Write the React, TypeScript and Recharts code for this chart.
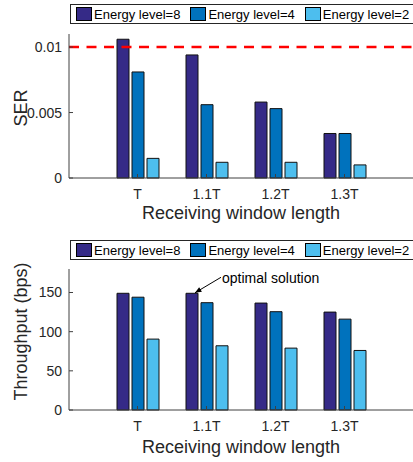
import { Bar, BarChart, ReferenceDot, ReferenceLine, XAxis, YAxis } from "recharts";

// Receiving window lengths on the x axis.
const categories = ["T", "1.1T", "1.2T", "1.3T"];

// Symbol error rate per energy level.
const serLevel8 = [0.0106, 0.0094, 0.0058, 0.0034];
const serLevel4 = [0.0081, 0.0056, 0.0053, 0.0034];
const serLevel2 = [0.0015, 0.0012, 0.0012, 0.001];
const serTicks = [0, 0.005, 0.01];
const serLimit = 0.01;

// Throughput (bps) per energy level.
const tputLevel8 = [149, 149, 136.5, 125];
const tputLevel4 = [144, 137, 125.5, 116];
const tputLevel2 = [90.5, 82, 79, 76];
const tputTicks = [0, 50, 100, 150];

const seriesNames = ["Energy level=8", "Energy level=4", "Energy level=2"];
const seriesColors = ["#352a87", "#0072bd", "#4dbeee"];
const keys = ["e8", "e4", "e2"];

const FONT = "'Liberation Sans', Arial, Helvetica, sans-serif";
const INK = "#262626";
const AXIS = "#404040";

const serData = categories.map((name, i) => ({ name, e8: serLevel8[i], e4: serLevel4[i], e2: serLevel2[i] }));
const tputData = categories.map((name, i) => ({ name, e8: tputLevel8[i], e4: tputLevel4[i], e2: tputLevel2[i] }));

function LegendBox({ top }: { top: number }) {
  return (
    <div
      style={{
        position: "absolute",
        left: 70,
        top,
        width: 350,
        height: 20,
        border: `1px solid ${INK}`,
        background: "#fff",
        display: "flex",
        alignItems: "center",
        paddingLeft: 5,
        boxSizing: "border-box",
        fontFamily: FONT,
        fontSize: 13,
        color: "#000",
        whiteSpace: "nowrap",
      }}
    >
      {seriesNames.map((n, i) => (
        <div key={n} style={{ display: "flex", alignItems: "center", marginRight: 10 }}>
          <span
            style={{
              display: "inline-block",
              width: 16,
              height: 14,
              background: seriesColors[i],
              border: "1px solid #000",
              boxSizing: "border-box",
              marginRight: 2,
            }}
          />
          <span>{n}</span>
        </div>
      ))}
    </div>
  );
}

function Panel({
  data,
  domain,
  ticks,
  fmt,
  title,
  titleShift,
  marginTop,
  axisHeight,
  labelDy,
  children,
}: {
  data: any[];
  domain: [number, number];
  ticks: number[];
  fmt: (v: number) => string;
  title: string;
  titleShift: number;
  marginTop: number;
  axisHeight: number;
  labelDy: number;
  children?: any;
}) {
  const pad = { left: 34, right: 34 };
  return (
    <BarChart
      width={413}
      height={231}
      data={data}
      margin={{ top: marginTop, right: 0, bottom: 0, left: 0 }}
      barSize={12}
      barGap={3}
      style={{ fontFamily: FONT }}
    >
      <XAxis
        dataKey="name"
        padding={pad}
        height={axisHeight}
        stroke={AXIS}
        tickSize={-4}
        tickMargin={15}
        tick={{ fontSize: 14, fill: INK }}
        interval={0}
        label={(p: any) => {
          const vb = p.viewBox;
          return (
            <text x={vb.x + vb.width / 2} y={vb.y + labelDy} textAnchor="middle" fontSize={18} fill={INK} fontFamily={FONT}>
              Receiving window length
            </text>
          );
        }}
      />
      <XAxis
        xAxisId="top"
        dataKey="name"
        orientation="top"
        padding={pad}
        height={0}
        stroke={AXIS}
        tickSize={-4}
        tickFormatter={() => ""}
        interval={0}
      />
      <YAxis
        width={69}
        domain={domain}
        ticks={ticks}
        stroke={AXIS}
        tickSize={-4}
        tickMargin={11}
        tick={{ fontSize: 14, fill: INK }}
        tickFormatter={fmt}
        label={(p: any) => {
          const vb = p.viewBox;
          return (
            <text
              transform={`translate(${27},${vb.y + vb.height / 2 + titleShift}) rotate(-90)`}
              textAnchor="middle"
              fontSize={18}
              fill={INK}
              fontFamily={FONT}
            >
              {title}
            </text>
          );
        }}
      />
      <YAxis
        yAxisId="right"
        orientation="right"
        width={0}
        domain={domain}
        ticks={ticks}
        stroke={AXIS}
        tickSize={-4}
        tickFormatter={() => ""}
      />
      {keys.map((k, i) => (
        <Bar key={k} dataKey={k} name={seriesNames[i]} fill={seriesColors[i]} stroke="#111" strokeWidth={1} isAnimationActive={false} />
      ))}
      {children}
    </BarChart>
  );
}

export default function App() {
  return (
    <div style={{ position: "absolute", left: 0, top: 0, width: 413, height: 462, background: "#fff", fontFamily: FONT }}>
      <div style={{ position: "relative", width: 413, height: 231 }}>
        <Panel
          data={serData}
          domain={[0, 0.011]}
          ticks={serTicks}
          fmt={(v) => (v === 0 ? "0" : String(v))}
          title="SER"
          titleShift={2}
          marginTop={34}
          axisHeight={53}
          labelDy={41}
        >
          <ReferenceLine y={serLimit} stroke="#ff0000" strokeWidth={2.5} strokeDasharray="10 7.5" ifOverflow="visible" />
        </Panel>
        <LegendBox top={4} />
      </div>
      <div style={{ position: "relative", width: 413, height: 231 }}>
        <Panel
          data={tputData}
          domain={[0, 180]}
          ticks={tputTicks}
          fmt={(v) => String(v)}
          title="Throughput (bps)"
          titleShift={-8}
          marginTop={38}
          axisHeight={52}
          labelDy={43}
        >
          <ReferenceDot
            x="1.1T"
            y={tputLevel8[1]}
            ifOverflow="visible"
            shape={(p: any) => {
              const tx = p.cx - 11.5;
              const ty = p.cy - 0.5;
              const sx = p.cx + 14.5;
              const sy = p.cy - 16;
              const ang = Math.atan2(ty - sy, tx - sx);
              const hl = 7;
              const hw = 0.4;
              return (
                <g>
                  <line x1={sx} y1={sy} x2={tx} y2={ty} stroke="#000" strokeWidth={1} />
                  <polygon
                    points={`${tx},${ty} ${tx - hl * Math.cos(ang - hw)},${ty - hl * Math.sin(ang - hw)} ${tx - hl * Math.cos(ang + hw)},${ty - hl * Math.sin(ang + hw)}`}
                    fill="#000"
                  />
                  <text x={sx + 1} y={p.cy - 10} fontSize={14} fill="#000" fontFamily={FONT}>
                    optimal solution
                  </text>
                </g>
              );
            }}
          />
        </Panel>
        <LegendBox top={9} />
      </div>
    </div>
  );
}
